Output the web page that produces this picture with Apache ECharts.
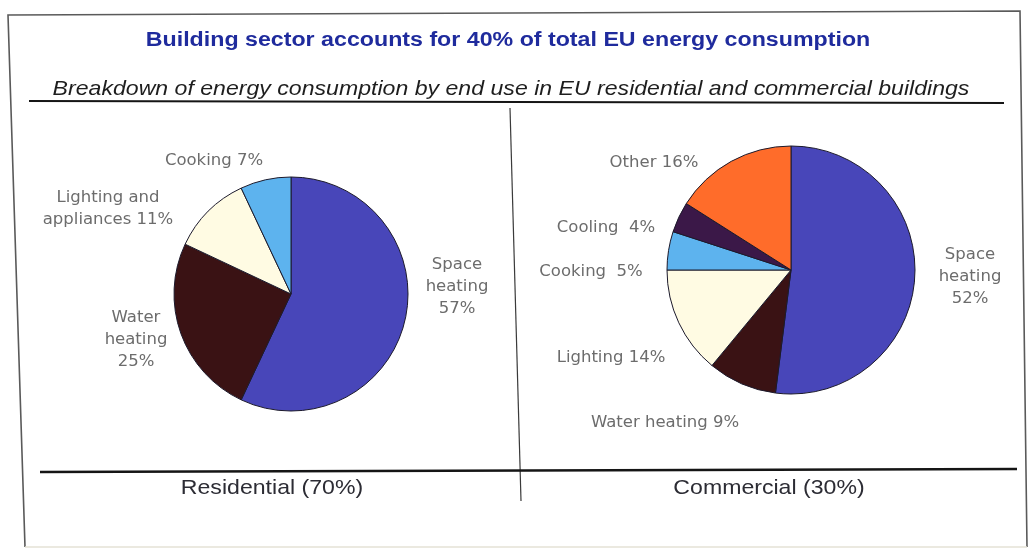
<!DOCTYPE html>
<html>
<head>
<meta charset="utf-8">
<title>EU building energy consumption by end use</title>
<script src="https://cdn.jsdelivr.net/npm/echarts@6/dist/echarts.min.js"></script>
<style>
  html, body { margin: 0; padding: 0; background: #ffffff; }
  #chart { width: 1030px; height: 549px; }
</style>
</head>
<body>
<div id="chart"></div>
<script>
// ---- data ----
const sectorNames = ['Residential', 'Commercial'];
const sectorShares = [70, 30];

const resCategories = ['Space heating', 'Water heating', 'Lighting and appliances', 'Cooking'];
const resShares = [57, 25, 11, 7];

const comCategories = ['Space heating', 'Water heating', 'Lighting', 'Cooking', 'Cooling', 'Other'];
const comShares = [52, 9, 14, 5, 4, 16];

const titleText = 'Building sector accounts for 40% of total EU energy consumption';
const subtitleText = 'Breakdown of energy consumption by end use in EU residential and commercial buildings';

// ---- label wording (line breaks as drawn next to each slice) ----
const resLabelText = {
  'Space heating': 'Space\nheating\n{c}%',
  'Water heating': 'Water\nheating\n{c}%',
  'Lighting and appliances': 'Lighting and\nappliances {c}%',
  'Cooking': 'Cooking {c}%'
};
const comLabelText = {
  'Space heating': 'Space\nheating\n{c}%',
  'Water heating': 'Water heating {c}%',
  'Lighting': 'Lighting {c}%',
  'Cooking': 'Cooking  {c}%',
  'Cooling': 'Cooling  {c}%',
  'Other': 'Other {c}%'
};

// ---- styling / layout ----
const sliceColors = {
  'Space heating': '#4846b9',
  'Water heating': '#3a1214',
  'Lighting and appliances': '#fffbe3',
  'Lighting': '#fffbe3',
  'Cooking': '#5db3ee',
  'Cooling': '#3b1848',
  'Other': '#ff6c2a'
};
// label anchor points (centre of each text block), per pie, per slice
const labelSpots = [
  [[457, 287], [136, 340], [108, 209], [214, 161]],
  [[970, 277], [665, 423], [611, 358], [591, 272], [606, 228], [654, 163]]
];
const labelFont = '"DejaVu Sans", sans-serif';

function buildData(cats, vals) {
  return cats.map((c, i) => ({
    name: c,
    value: vals[i],
    itemStyle: { color: sliceColors[c] }
  }));
}

function pieSeries(cats, vals, center, radius, textMap) {
  return {
    type: 'pie',
    center: center,
    radius: radius,
    startAngle: 90,
    clockwise: true,
    avoidLabelOverlap: false,
    animation: false,
    silent: true,
    emphasis: { disabled: true },
    itemStyle: { borderColor: '#1c1a2c', borderWidth: 1 },
    label: {
      show: true,
      position: 'outside',
      color: '#6c6c6c',
      fontFamily: labelFont,
      fontSize: 16.5,
      lineHeight: 22,
      align: 'center',
      formatter: p => textMap[p.name].replace('{c}', p.value)
    },
    labelLine: { show: false },
    labelLayout: params => {
      const s = labelSpots[params.seriesIndex][params.dataIndex];
      return { x: s[0], y: s[1], align: 'center', verticalAlign: 'middle' };
    },
    data: buildData(cats, vals)
  };
}

function stretchedText(x, y, text, font, fill, sx) {
  return {
    type: 'text',
    x: x, y: y,
    scaleX: sx,
    silent: true,
    style: {
      text: text, x: 0, y: 0,
      font: font, fill: fill,
      textAlign: 'center', textVerticalAlign: 'middle',
      align: 'center', verticalAlign: 'middle'
    }
  };
}

const chart = echarts.init(document.getElementById('chart'), null, { renderer: 'canvas' });

chart.setOption({
  backgroundColor: '#ffffff',
  animation: false,
  series: [
    pieSeries(resCategories, resShares, [291, 294], 117, resLabelText),
    pieSeries(comCategories, comShares, [791, 270], 124, comLabelText)
  ],
  graphic: [
    // outer frame
    {
      type: 'polyline', silent: true,
      shape: { points: [[25, 547], [8, 15], [1020, 11], [1027, 547]] },
      style: { stroke: '#5a5a5a', lineWidth: 1.6, fill: null }
    },
    {
      type: 'line', silent: true,
      shape: { x1: 25, y1: 547, x2: 1027, y2: 547 },
      style: { stroke: '#e4e2d6', lineWidth: 1.5 }
    },
    // rule under the subtitle
    {
      type: 'line', silent: true,
      shape: { x1: 29, y1: 101, x2: 1004, y2: 103 },
      style: { stroke: '#151515', lineWidth: 2 }
    },
    // divider between the two pies
    {
      type: 'line', silent: true,
      shape: { x1: 510, y1: 108, x2: 521, y2: 501 },
      style: { stroke: '#3a3a3a', lineWidth: 1.2 }
    },
    // rule above the sector captions
    {
      type: 'line', silent: true,
      shape: { x1: 40, y1: 472, x2: 1017, y2: 469 },
      style: { stroke: '#151515', lineWidth: 2.4 }
    },
    stretchedText(508, 40, titleText, 'bold 20px "Liberation Sans", Arial, sans-serif', '#1f2b9d', 1.16),
    stretchedText(511, 89, subtitleText, 'italic 21px "Liberation Sans", Arial, sans-serif', '#1e1e1e', 1.1),
    stretchedText(272, 488, sectorNames[0] + ' (' + sectorShares[0] + '%)', '21px "Liberation Sans", Arial, sans-serif', '#2c2c34', 1.1),
    stretchedText(769, 488, sectorNames[1] + ' (' + sectorShares[1] + '%)', '21px "Liberation Sans", Arial, sans-serif', '#2c2c34', 1.1)
  ]
});
</script>
</body>
</html>
